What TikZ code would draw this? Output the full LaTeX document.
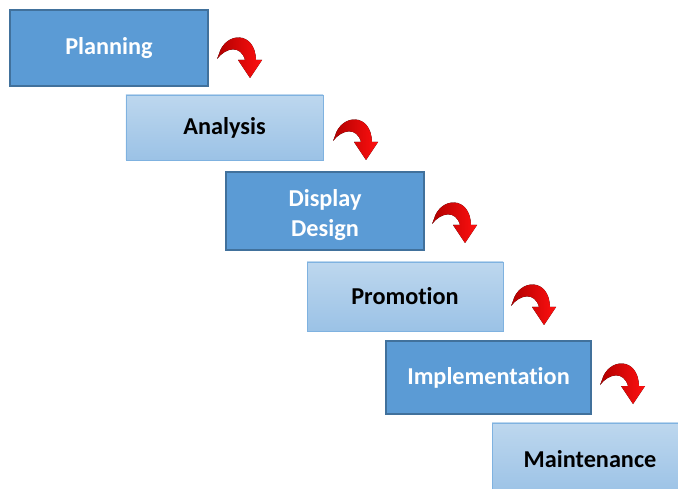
\documentclass[tikz,border=0pt]{standalone}
\usepackage{fontspec}
\setmainfont{Carlito}[Ligatures=NoCommon]
\definecolor{boxdark}{HTML}{5B9BD5}
\definecolor{boxline}{HTML}{41719C}
\definecolor{boxtop}{HTML}{BDD7EE}
\definecolor{boxbot}{HTML}{9BC2E6}
\definecolor{boxrim}{HTML}{7FB2E0}
\definecolor{arrowdark}{HTML}{B00000}
\definecolor{arrowlight}{HTML}{FF1010}
\begin{document}
\begin{tikzpicture}[x=0.03cm, y=-0.03cm,
    dark/.style={draw=boxline, line width=1pt, fill=boxdark, text=white, inner sep=0pt,
      font=\fontsize{20.7}{25.5}\selectfont\bfseries, align=center},
    light/.style={draw=boxrim, line width=0.8pt, top color=boxtop, bottom color=boxbot, text=black,
      inner sep=0pt, font=\fontsize{20.7}{25.5}\selectfont\bfseries, align=center},
    bend/.pic={
      \fill[left color=arrowdark, right color=arrowlight]
        (0,2) -- (2,-3) .. controls (8,-25) and (38,-27) .. (39,3)
        -- (45,3) -- (33,21) -- (21,3) -- (28,3)
        .. controls (24,-12) and (9,-10) .. (0,2) -- cycle;
    }]
    \clip (0,0) rectangle (678,489);
    \fill[white] (0,0) rectangle (678,489);

    \node[dark, minimum width=5.94cm, minimum height=2.28cm] (plan) at (109,48) {Planning};
    \node[light, minimum width=5.91cm, minimum height=1.95cm] (anal) at (224.5,127.5) {Analysis};
    \node[dark, minimum width=5.94cm, minimum height=2.34cm] (disp) at (325,211) {\rule{0pt}{22pt}Display\\Design};
    \node[light, minimum width=5.88cm, minimum height=2.07cm] (prom) at (405,296.5) {Promotion};
    \node[dark, minimum width=6.15cm, minimum height=2.19cm] (impl) at (488.5,377.5) {Implementation};
    \node[light, minimum width=5.88cm, minimum height=2.16cm] (main) at (590,459) {Maintenance};

    % curved arrows between the steps
    \coordinate (b1) at (217,57);
    \coordinate (b2) at (333,139);
    \coordinate (b3) at (432,222);
    \coordinate (b4) at (511,304);
    \coordinate (b5) at (600,383);
    \pic at (b1) {bend};
    \pic at (b2) {bend};
    \pic at (b3) {bend};
    \pic at (b4) {bend};
    \pic at (b5) {bend};
\end{tikzpicture}
\end{document}
